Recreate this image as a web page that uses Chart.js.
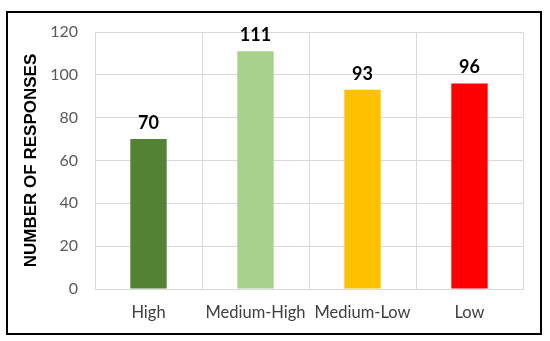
<!DOCTYPE html>
<html>
<head>
<meta charset="utf-8">
<script src="https://cdn.jsdelivr.net/npm/chart.js@4"></script>
<style>
  html, body { margin: 0; padding: 0; background: #fff; }
  #wrap { position: relative; width: 550px; height: 341px; }
  #frame {
    position: absolute; left: 6px; top: 11px; width: 532px; height: 320px;
    border: 2px solid #000; pointer-events: none;
  }
</style>
</head>
<body>
<div id="wrap">
  <canvas id="chart" width="550" height="341"></canvas>
  <div id="frame"></div>
</div>
<script>
const categories = ['High', 'Medium-High', 'Medium-Low', 'Low'];
const responses = [70, 111, 93, 96];
const barColors = ['#548235', '#A9D18E', '#FFC000', '#FF0000'];
const yTicks = [0, 20, 40, 60, 80, 100, 120];

// draws the value above each bar
const valueLabels = {
  id: 'valueLabels',
  afterDatasetsDraw(chart) {
    const ctx = chart.ctx;
    const meta = chart.getDatasetMeta(0);
    ctx.save();
    ctx.font = 'bold 18px Lato, "Liberation Sans", sans-serif';
    ctx.fillStyle = '#000';
    ctx.textAlign = 'center';
    ctx.textBaseline = 'bottom';
    meta.data.forEach((bar, i) => {
      ctx.fillText(responses[i], bar.x, bar.y - 7);
    });
    ctx.restore();
  }
};

new Chart(document.getElementById('chart').getContext('2d'), {
  type: 'bar',
  data: {
    labels: categories,
    datasets: [{
      data: responses,
      backgroundColor: barColors,
      borderWidth: 0,
      barPercentage: 0.34,
      categoryPercentage: 1
    }]
  },
  options: {
    responsive: false,
    animation: false,
    layout: { padding: { left: 0, right: 27, top: 32, bottom: 0 } },
    plugins: {
      legend: { display: false },
      tooltip: { enabled: false }
    },
    scales: {
      x: {
        grid: { color: '#d9d9d9', drawTicks: false, offset: true },
        border: { color: '#d9d9d9' },
        ticks: {
          padding: 14,
          color: '#404040',
          font: { family: 'Lato, "Open Sans", sans-serif', size: 16.5 }
        },
        afterFit: s => { s.height = 52; }
      },
      y: {
        min: 0,
        max: 120,
        afterBuildTicks: s => { s.ticks = yTicks.map(v => ({ value: v })); },
        grid: { color: '#d9d9d9', drawTicks: false },
        border: { display: false },
        ticks: {
          padding: 17,
          color: '#595959',
          font: { family: 'Lato, "Open Sans", sans-serif', size: 16 }
        },
        title: {
          display: true,
          text: 'NUMBER OF RESPONSES',
          color: '#000',
          padding: { top: 21, bottom: 0 },
          font: { family: '"Liberation Sans", Arial, sans-serif', size: 17, weight: 'bold' }
        },
        afterFit: s => { s.width = 95; }
      }
    }
  },
  plugins: [valueLabels]
});
</script>
</body>
</html>
